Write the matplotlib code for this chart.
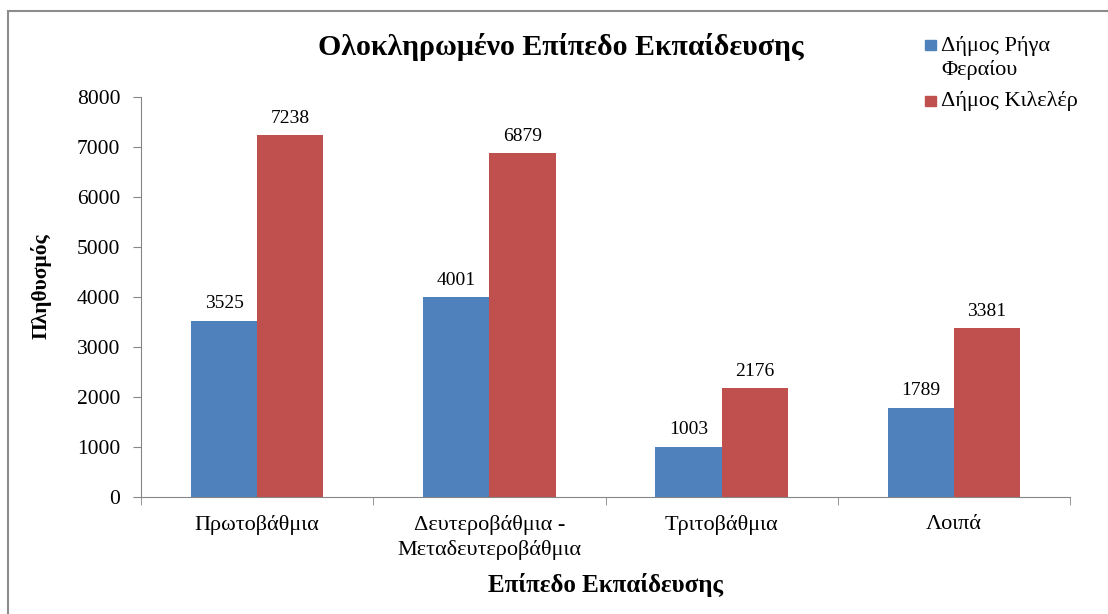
import numpy as np
import matplotlib
matplotlib.use("Agg")
import matplotlib.pyplot as plt
from matplotlib.patches import Rectangle

# data
categories = ["Πρωτοβάθμια", "Δευτεροβάθμια -\nΜεταδευτεροβάθμια", "Τριτοβάθμια", "Λοιπά"]
rigas_fereou = [3525, 4001, 1003, 1789]
kileler = [7238, 6879, 2176, 3381]
series_names = ["Δήμος Ρήγα\nΦεραίου", "Δήμος Κιλελέρ"]
y_ticks = [0, 1000, 2000, 3000, 4000, 5000, 6000, 7000, 8000]

BLUE = "#4F81BD"
RED = "#C0504D"
AXIS_GREY = "#868686"
W, H = 1108, 614

plt.rcParams["font.family"] = ["Liberation Serif", "DejaVu Serif"]

fig = plt.figure(figsize=(W / 100, H / 100), dpi=100)
ax = fig.add_axes([0.1273, 0.1906, 0.8384, 0.6515])

x = np.arange(len(categories))
w = 0.285
b1 = ax.bar(x - w / 2, rigas_fereou, w, color=BLUE)
b2 = ax.bar(x + w / 2, kileler, w, color=RED)

for bars in (b1, b2):
    ax.bar_label(bars, padding=6, fontsize=14)

ax.set_xlim(-0.5, len(categories) - 0.5)
ax.set_ylim(0, 8000)
ax.set_yticks(y_ticks)
ax.tick_params(axis="y", labelsize=15.5, length=6, color=AXIS_GREY, pad=9)

ax.set_xticks(x)
ax.set_xticklabels(categories, fontsize=16, linespacing=1.35)
ax.tick_params(axis="x", which="major", length=0, pad=13)
ax.set_xticks(np.arange(len(categories) + 1) - 0.5, minor=True)
ax.tick_params(axis="x", which="minor", length=6, color=AXIS_GREY)

for side in ("top", "right"):
    ax.spines[side].set_visible(False)
for side in ("left", "bottom"):
    ax.spines[side].set_color(AXIS_GREY)

ax.set_ylabel("Πληθυσμός", fontsize=15.5, fontweight="bold")
ax.yaxis.set_label_coords(-0.096, 0.528)
ax.set_xlabel("Επίπεδο Εκπαίδευσης", fontsize=18, fontweight="bold", labelpad=9)

fig.text(0.506, 0.924, "Ολοκληρωμένο Επίπεδο Εκπαίδευσης",
         ha="center", va="center", fontsize=21.5, fontweight="bold")

# legend drawn by hand so the swatch sits on the first line of a wrapped label
legend_rows = [(45, series_names[0], BLUE, 46), (101, series_names[1], RED, 101)]
for sw_y, label, colour, txt_y in legend_rows:
    fig.patches.append(Rectangle((925 / W, 1 - (sw_y + 5) / H), 11 / W, 10 / H,
                                 transform=fig.transFigure, color=colour))
    first, *rest = label.split("\n")
    fig.text(941 / W, 1 - txt_y / H, first, ha="left", va="center", fontsize=16)
    for i, line in enumerate(rest, start=1):
        fig.text(941 / W, 1 - (txt_y + 24 * i) / H, line, ha="left", va="center", fontsize=16)

# outer chart border, cut off at right and bottom like the source
fig.patches.append(Rectangle((0.0075, -0.05), 1.05, 0.032 + 1.0, transform=fig.transFigure,
                             fill=False, edgecolor="#8c8c8c", linewidth=1.5))

fig.savefig("out.png", dpi=100)
